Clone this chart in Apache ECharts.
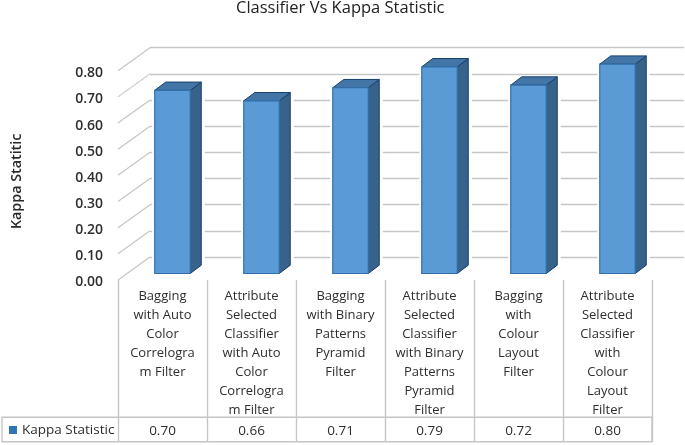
<!DOCTYPE html>
<html><head><meta charset="utf-8">
<style>html,body{margin:0;padding:0;background:#fff}#c{width:685px;height:445px;filter:blur(0.35px)}</style>
<script src="https://cdn.jsdelivr.net/npm/echarts@6/dist/echarts.min.js"></script>
</head><body><div id="c"></div>
<script>
const categories = [
  "Bagging\nwith Auto\nColor\nCorrelogra\nm Filter",
  "Attribute\nSelected\nClassifier\nwith Auto\nColor\nCorrelogra\nm Filter",
  "Bagging\nwith Binary\nPatterns\nPyramid\nFilter",
  "Attribute\nSelected\nClassifier\nwith Binary\nPatterns\nPyramid\nFilter",
  "Bagging\nwith\nColour\nLayout\nFilter",
  "Attribute\nSelected\nClassifier\nwith\nColour\nLayout\nFilter"
];
const kappa = [0.70, 0.66, 0.71, 0.79, 0.72, 0.80];
const yTicks = [0, 0.1, 0.2, 0.3, 0.4, 0.5, 0.6, 0.7, 0.8];
const seriesName = "Kappa Statistic";
const font = '"Open Sans", sans-serif';
const textColor = '#2e2e2e';
const gridColor = '#c6c6c6';
const DX = 32, DY = -23;          // wall depth
const BX = 10, BY = -6.5;         // bar offset inside the floor
const BW = 35.5, SX = 11, SY = -8.3; // bar width and bar depth

function renderBar(params, api) {
  const c = api.coord([api.value(0), api.value(1)]);
  const b = api.coord([api.value(0), 0]);
  const x0 = c[0] - BW / 2 + BX, x1 = x0 + BW;
  const yt = c[1] + BY, yb = b[1] + BY;
  const edge = '#17406c';
  return { type: 'group', children: [
    { type: 'rect', shape: { x: x0 - 2.5, y: yt + SY - 1, width: BW + SX + 6, height: yb - yt - SY + 1 }, style: { fill: '#fff' } },
    { type: 'polygon', shape: { points: [[x1, yt], [x1 + SX, yt + SY], [x1 + SX, yb + SY], [x1, yb]] },
      style: { fill: '#37628a', stroke: edge, lineWidth: 1 } },
    { type: 'polygon', shape: { points: [[x0, yt], [x0 + SX, yt + SY], [x1 + SX, yt + SY], [x1, yt]] },
      style: { fill: '#4376a6', stroke: edge, lineWidth: 1 } },
    { type: 'rect', shape: { x: x0, y: yt, width: BW, height: yb - yt },
      style: { fill: '#5b9bd5', stroke: '#2f70ad', lineWidth: 1.2 } }
  ]};
}
function renderDiagonal(params, api) {
  const p = api.coord([0, api.value(0)]);
  const x = params.coordSys.x;
  return { type: 'line', shape: { x1: x, y1: p[1], x2: x + DX, y2: p[1] + DY },
    style: { stroke: gridColor, lineWidth: 1.2 } };
}
const chart = echarts.init(document.getElementById('c'));
chart.setOption({
  animation: false,
  backgroundColor: '#fff',
  title: { text: 'Classifier Vs Kappa Statistic', left: 236, top: 0, padding: 0,
    textStyle: { fontFamily: font, fontSize: 16.5, fontWeight: 500, color: '#222' } },
  legend: { left: 9, top: 423, padding: 0, icon: 'rect', itemWidth: 8, itemHeight: 8, itemGap: 4,
    data: [seriesName], selectedMode: false,
    textStyle: { fontFamily: font, fontSize: 13.5, color: textColor } },
  grid: [
    { left: 118, right: 33, top: 70.7, bottom: 165, outerBoundsMode: 'none' },
    { left: 150, right: 1, top: 47.7, bottom: 188, outerBoundsMode: 'none' }
  ],
  xAxis: [
    { type: 'category', gridIndex: 0, data: categories, position: 'bottom',
      axisLine: { show: false },
      axisTick: { show: true, length: 162, lineStyle: { color: gridColor, width: 1.4 } },
      axisLabel: { interval: 0, margin: 7, lineHeight: 19, verticalAlign: 'top', align: 'center',
        fontFamily: font, fontSize: 13, color: textColor } },
    { type: 'category', gridIndex: 0, data: kappa.map(v => v.toFixed(2)), position: 'bottom', offset: 137,
      axisLine: { show: false }, axisTick: { show: false },
      axisLabel: { interval: 0, margin: 7, fontFamily: font, fontSize: 13.5, color: textColor } },
    { type: 'value', gridIndex: 1, min: 0, max: 1, show: false }
  ],
  yAxis: [
    { type: 'value', gridIndex: 0, min: 0, max: 0.8, interval: 0.1,
      name: 'Kappa Statitic', nameLocation: 'middle', nameRotate: 90, nameGap: 94,
      nameTextStyle: { fontFamily: font, fontSize: 14.3, fontWeight: 600, color: '#2a2a2a', padding: [0, 12, 0, 0] },
      axisLine: { show: false }, axisTick: { show: false }, splitLine: { show: false },
      axisLabel: { margin: 15, formatter: v => '{t|' + v.toFixed(2) + '}',
        rich: { t: { fontFamily: font, fontSize: 14, fontWeight: 600, color: textColor, padding: [5, 0, 0, 0] } } } },
    { type: 'value', gridIndex: 1, min: 0, max: 0.8, interval: 0.1,
      axisLine: { show: false }, axisTick: { show: false }, axisLabel: { show: false },
      splitLine: { show: true, lineStyle: { color: gridColor, width: 1.4 } } }
  ],
  series: [
    { type: 'custom', name: 'walls', xAxisIndex: 0, yAxisIndex: 0, clip: false, silent: true, z: 2,
      data: yTicks, encode: { y: 0 }, renderItem: renderDiagonal },
    { type: 'custom', name: seriesName, xAxisIndex: 0, yAxisIndex: 0, clip: false, z: 3,
      itemStyle: { color: '#2f75b5' },
      data: kappa.map((v, i) => [i, v]), encode: { x: 0, y: 1 }, renderItem: renderBar }
  ],
  graphic: [
    { type: 'rect', z: 1, shape: { x: 2, y: 417.3, width: 650, height: 24.4 },
      style: { fill: 'none', stroke: gridColor, lineWidth: 1.4 } }
  ]
});
</script></body></html>
